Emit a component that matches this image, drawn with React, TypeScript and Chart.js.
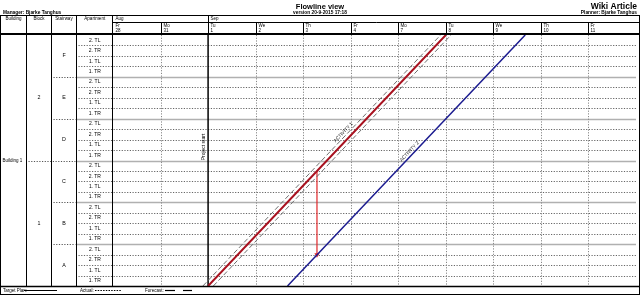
import React, { useEffect, useRef } from 'react';
import { Chart, registerables } from 'chart.js';
Chart.register(...registerables);

// ---- data ----
const monthLabels = ['Aug', 'Sep'];
const monthStartDay = [0, 2];
const dayNames = ['Fr', 'Mo', 'Tu', 'We', 'Th', 'Fr', 'Mo', 'Tu', 'We', 'Th', 'Fr'];
const dayNumbers = ['28', '31', '1', '2', '3', '4', '7', '8', '9', '10', '11'];
const projectStartDay = 2;
const buildingLabels = ['Building 1'];
const blockLabels = ['2', '1'];
const stairwayLabels = ['F', 'E', 'D', 'C', 'B', 'A'];
const apartmentLabels = ['2. TL', '2. TR', '1. TL', '1. TR'];

const activity1X = [2, 7];
const activity1Y = [0, 24];
const activity1Envelope = 0.11;
const activity2X = [3.67, 8.67];
const activity2Y = [0, 24];
const linkX = [4.29, 4.29];
const linkY = [11, 3];
const activityLabels = ['ACTIVITY 1', 'ACTIVITY 2'];
const activityLabelAtY = [14.2, 12.6];

const titleText = 'Flowline view';
const versionText = 'version 20-9-2015 17:18';
const managerText = 'Manager: Bjarke Tanghus';
const projectText = 'Wiki Article';
const plannerText = 'Planner: Bjarke Tanghus';
const headerLabels = ['Building', 'Block', 'Stairway', 'Apartment'];
const legendLabels = ['Target Plan:', 'Actual:', 'Forecast:'];

const nRows = stairwayLabels.length * apartmentLabels.length;
const nDays = dayNames.length;

// ---- layout constants ----
const COLS = [0.5, 26.5, 51.5, 76.5, 113];
const RIGHT = 639.5;
const HEAD_TOP = 15.5;
const MONTH_SEP = 22.5;
const HEAD_BOTTOM = 34;
const FOOT_BOTTOM = 294.5;
const FONT = '"Liberation Sans", Arial, sans-serif';

function line(ctx: CanvasRenderingContext2D, x1: number, y1: number, x2: number, y2: number) {
  ctx.beginPath();
  ctx.moveTo(x1, y1);
  ctx.lineTo(x2, y2);
  ctx.stroke();
}

const flowPlugin = {
  id: 'flowTable',
  beforeDatasetsDraw(chart: any) {
    const ctx: CanvasRenderingContext2D = chart.ctx;
    const xs = chart.scales.x;
    const ys = chart.scales.y;
    const { left, right, top, bottom } = chart.chartArea;
    ctx.save();
    // horizontal row lines
    for (let r = 1; r < nRows; r++) {
      const py = Math.round(ys.getPixelForValue(r)) + 0.5;
      if (r % apartmentLabels.length === 0) {
        ctx.setLineDash([]);
        ctx.strokeStyle = '#b0b0b0';
        ctx.lineWidth = 1.5;
        line(ctx, COLS[3], py, right, py);
        ctx.setLineDash([1.2, 1.5]);
        ctx.strokeStyle = '#555';
        ctx.lineWidth = 1;
        const from = r === nRows / 2 ? COLS[1] : COLS[2];
        line(ctx, from + 2, py, COLS[3] - 1, py);
      } else {
        ctx.setLineDash([1.2, 1.5]);
        ctx.strokeStyle = '#666';
        ctx.lineWidth = 1;
        line(ctx, COLS[3] + 2, py, right, py);
      }
    }
    // vertical day lines
    for (let d = 1; d < nDays; d++) {
      const px = Math.round(xs.getPixelForValue(d)) + 0.5;
      if (d === projectStartDay) continue;
      ctx.setLineDash([1.2, 1.5]);
      ctx.strokeStyle = '#888';
      ctx.lineWidth = 1;
      line(ctx, px, top, px, bottom);
    }
    ctx.setLineDash([]);
    ctx.strokeStyle = '#000';
    ctx.lineWidth = 1.5;
    const ps = xs.getPixelForValue(projectStartDay);
    line(ctx, ps, top, ps, bottom);
    ctx.restore();
  },
  afterDatasetsDraw(chart: any) {
    const ctx: CanvasRenderingContext2D = chart.ctx;
    const xs = chart.scales.x;
    const ys = chart.scales.y;
    const { left, right, top, bottom } = chart.chartArea;
    ctx.save();
    ctx.setLineDash([]);
    ctx.fillStyle = '#000';
    ctx.textBaseline = 'middle';

    // titles
    ctx.font = `bold 7.5px ${FONT}`;
    ctx.textAlign = 'center';
    ctx.fillText(titleText, 320, 6.5);
    ctx.font = `bold 4.8px ${FONT}`;
    ctx.fillText(versionText, 320, 13);
    ctx.textAlign = 'left';
    ctx.fillText(managerText, 3, 12.5);
    ctx.textAlign = 'right';
    ctx.font = `bold 8.5px ${FONT}`;
    ctx.fillText(projectText, 637, 6.5);
    ctx.font = `bold 4.8px ${FONT}`;
    ctx.fillText(plannerText, 637, 13);

    // borders
    ctx.strokeStyle = '#000';
    ctx.lineWidth = 1;
    line(ctx, 0, HEAD_TOP, RIGHT + 0.5, HEAD_TOP);
    line(ctx, COLS[0], HEAD_TOP, COLS[0], FOOT_BOTTOM);
    line(ctx, RIGHT, HEAD_TOP, RIGHT, FOOT_BOTTOM);
    line(ctx, 0, FOOT_BOTTOM, RIGHT + 0.5, FOOT_BOTTOM);
    for (let c = 1; c < 4; c++) line(ctx, COLS[c], HEAD_TOP, COLS[c], bottom);
    line(ctx, left - 0.5, HEAD_TOP, left - 0.5, bottom);
    ctx.lineWidth = 2;
    line(ctx, 0, HEAD_BOTTOM, RIGHT + 0.5, HEAD_BOTTOM);
    ctx.lineWidth = 1.5;
    line(ctx, 0, bottom + 0.5, RIGHT + 0.5, bottom + 0.5);
    ctx.lineWidth = 1;
    line(ctx, left, MONTH_SEP, RIGHT, MONTH_SEP);

    // column headers
    ctx.font = `4.5px ${FONT}`;
    ctx.textAlign = 'center';
    for (let c = 0; c < 4; c++) {
      ctx.fillText(headerLabels[c], (COLS[c] + COLS[c + 1]) / 2, 18.5);
    }
    // months
    ctx.textAlign = 'left';
    monthLabels.forEach((m, i) => {
      const px = Math.round(xs.getPixelForValue(monthStartDay[i])) + 0.5;
      if (monthStartDay[i] > 0) line(ctx, px, HEAD_TOP, px, MONTH_SEP);
      ctx.fillText(m, px + 2, 18.8);
    });
    // days
    for (let d = 0; d < nDays; d++) {
      const px = Math.round(xs.getPixelForValue(d)) + 0.5;
      if (d > 0) line(ctx, px, MONTH_SEP, px, HEAD_BOTTOM);
      ctx.fillText(dayNames[d], px + 2, 25.8);
      ctx.fillText(dayNumbers[d], px + 2, 31);
    }

    // row labels
    ctx.font = `5px ${FONT}`;
    ctx.textAlign = 'center';
    for (let i = 0; i < nRows; i++) {
      const yv = nRows - i - 0.5;
      ctx.fillText(apartmentLabels[i % apartmentLabels.length], (COLS[3] + COLS[4]) / 2, ys.getPixelForValue(yv));
    }
    ctx.font = `5.3px ${FONT}`;
    stairwayLabels.forEach((s, i) => {
      const yv = nRows - (i + 0.5) * apartmentLabels.length;
      ctx.fillText(s, (COLS[2] + COLS[3]) / 2, ys.getPixelForValue(yv));
    });
    const perBlock = nRows / blockLabels.length;
    blockLabels.forEach((b, i) => {
      const yv = nRows - (i + 0.5) * perBlock;
      ctx.fillText(b, (COLS[1] + COLS[2]) / 2, ys.getPixelForValue(yv));
    });
    ctx.font = `4.5px ${FONT}`;
    ctx.textAlign = 'left';
    buildingLabels.forEach((b) => {
      const yv = nRows / 2;
      ctx.fillText(b, 2.5, ys.getPixelForValue(yv));
    });

    // project start label
    ctx.save();
    ctx.font = `5px ${FONT}`;
    ctx.textAlign = 'center';
    ctx.translate(xs.getPixelForValue(projectStartDay) - 4.5, 147);
    ctx.rotate(-Math.PI / 2);
    ctx.fillText('Project start', 0, 0);
    ctx.restore();

    // activity labels
    const acts = [
      { xArr: activity1X, yArr: activity1Y, off: 7 },
      { xArr: activity2X, yArr: activity2Y, off: 3.5 },
    ];
    acts.forEach((a, i) => {
      const x0 = xs.getPixelForValue(a.xArr[0]);
      const y0 = ys.getPixelForValue(a.yArr[0]);
      const x1 = xs.getPixelForValue(a.xArr[1]);
      const y1 = ys.getPixelForValue(a.yArr[1]);
      const ang = Math.atan2(y1 - y0, x1 - x0);
      const t = (activityLabelAtY[i] - a.yArr[0]) / (a.yArr[1] - a.yArr[0]);
      const dx = a.xArr[0] + t * (a.xArr[1] - a.xArr[0]);
      const px = xs.getPixelForValue(dx);
      const py = ys.getPixelForValue(activityLabelAtY[i]);
      ctx.save();
      ctx.translate(px, py);
      ctx.rotate(ang);
      ctx.font = `4.8px ${FONT}`;
      ctx.textAlign = 'center';
      ctx.textBaseline = 'bottom';
      ctx.fillStyle = '#222';
      ctx.fillText(activityLabels[i], 0, -a.off + 2);
      ctx.restore();
    });

    // footer legend
    const fy = 290.5;
    ctx.font = `4.5px ${FONT}`;
    ctx.textAlign = 'left';
    ctx.textBaseline = 'middle';
    ctx.fillStyle = '#000';
    ctx.fillText(legendLabels[0], 3, fy);
    ctx.lineWidth = 1;
    line(ctx, 24, fy, 57, fy);
    ctx.fillText(legendLabels[1], 80, fy);
    ctx.setLineDash([1.5, 1.2]);
    line(ctx, 95, fy, 121, fy);
    ctx.setLineDash([]);
    ctx.fillText(legendLabels[2], 145, fy);
    ctx.lineWidth = 1.2;
    line(ctx, 165, fy, 175, fy);
    line(ctx, 183, fy, 192, fy);
    ctx.restore();
  },
};

export default function App() {
  const ref = useRef<HTMLCanvasElement | null>(null);
  useEffect(() => {
    if (!ref.current) return;
    const pts = (xa: number[], ya: number[], dx = 0) => xa.map((x, i) => ({ x: x + dx, y: ya[i] }));
    const chart = new Chart(ref.current, {
      type: 'scatter',
      data: {
        datasets: [
          {
            data: pts(activity1X, activity1Y, -activity1Envelope),
            showLine: true, borderColor: '#6e6e6e', borderWidth: 1, borderDash: [5, 2.5], pointRadius: 0,
          },
          {
            data: pts(activity1X, activity1Y, activity1Envelope),
            showLine: true, borderColor: '#6e6e6e', borderWidth: 1, borderDash: [5, 2.5], pointRadius: 0,
          },
          {
            data: pts(activity1X, activity1Y),
            showLine: true, borderColor: '#a8111f', borderWidth: 2, pointRadius: 0,
          },
          {
            data: pts(activity2X, activity2Y),
            showLine: true, borderColor: '#1c1c90', borderWidth: 1.5, pointRadius: 0,
          },
          {
            data: pts(linkX, linkY),
            showLine: true, borderColor: '#e0262a', borderWidth: 1.2,
            pointRadius: [0, 3], pointStyle: 'triangle', rotation: 180,
            pointBackgroundColor: '#e0262a', pointBorderWidth: 0,
          },
        ] as any,
      },
      options: {
        responsive: false,
        animation: false,
        devicePixelRatio: 1,
        events: [],
        layout: { padding: { left: 113, right: 1, top: 35, bottom: 9 } },
        plugins: { legend: { display: false }, tooltip: { enabled: false } },
        scales: {
          x: { type: 'linear', display: false, min: 0, max: nDays },
          y: { type: 'linear', display: false, min: 0, max: nRows },
        },
      } as any,
      plugins: [flowPlugin],
    });
    return () => chart.destroy();
  }, []);
  return (
    <div style={{ position: 'fixed', left: 0, top: 0, width: 640, height: 295, background: '#fff' }}>
      <canvas ref={ref} width={640} height={295} style={{ display: 'block', width: 640, height: 295 }} />
    </div>
  );
}
